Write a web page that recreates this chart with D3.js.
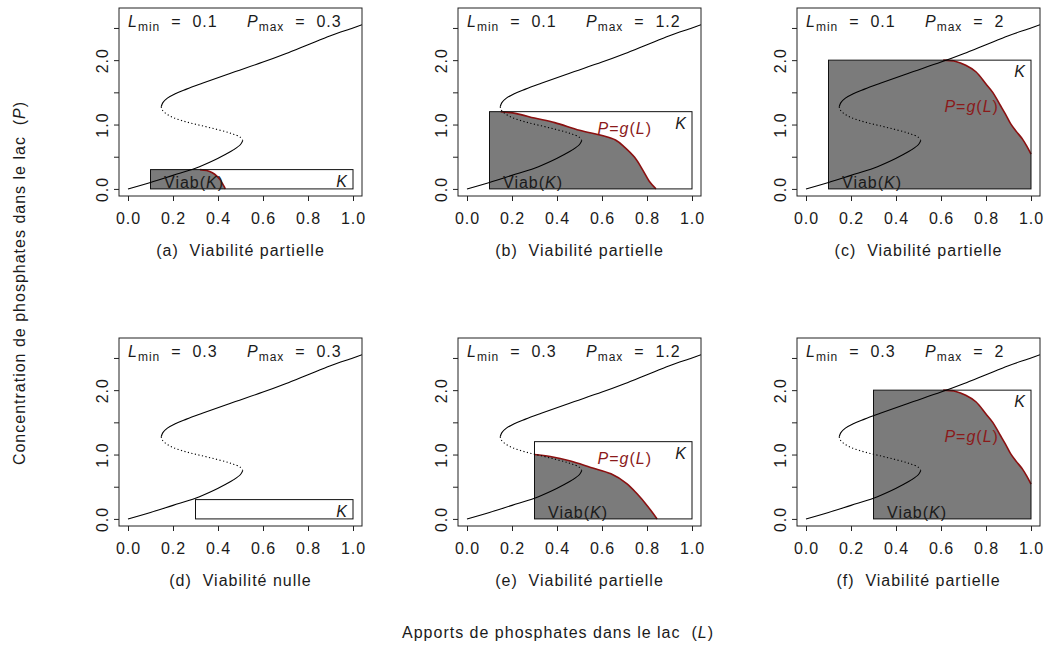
<!DOCTYPE html>
<html lang="fr">
<head>
<meta charset="utf-8">
<script src="https://cdnjs.cloudflare.com/ajax/libs/d3/7.8.5/d3.min.js"></script>
<style>
    body { margin: 0; background: #fff; }
    svg text {
        font-family: "Liberation Sans", Arial, sans-serif;
        font-size: 16px;
        letter-spacing: 1px;
        fill: #1a1a1a;
        white-space: pre;
    }
</style>
</head>
<body>
<div id="fig"></div>
<script>

// courbe d'équilibre P*(L) (identique dans les 6 panneaux)
var eqLow  = [[0,0],[0.1,0.1],[0.2,0.21],[0.3,0.32],[0.38,0.44],[0.43,0.53],[0.47,0.61],[0.5,0.69],[0.51,0.75]];
var eqMid  = [[0.51,0.75],[0.5,0.8],[0.46,0.86],[0.4,0.92],[0.33,0.98],[0.26,1.04],[0.2,1.11],[0.165,1.18],[0.15,1.24],[0.148,1.28]];
var eqHigh = [[0.148,1.28],[0.155,1.34],[0.175,1.41],[0.21,1.48],[0.26,1.55],[0.33,1.64],[0.45,1.79],[0.6,1.97],[0.7,2.1],[0.8,2.24],[0.9,2.38],[1.0,2.5],[1.04,2.55]];

// frontières du noyau de viabilité P = g(L)
var gA = [[0.32,0.3],[0.35,0.285],[0.375,0.25],[0.395,0.2],[0.41,0.14],[0.42,0.08],[0.43,0.02],[0.432,0]];
var gB = [[0.15,1.2],[0.22,1.17],[0.3,1.1],[0.39,1.03],[0.5,0.91],[0.6,0.83],[0.66,0.76],[0.7,0.65],[0.745,0.49],[0.78,0.3],[0.81,0.12],[0.84,0]];
var gC = [[0.61,2.0],[0.666,1.98],[0.71,1.92],[0.755,1.82],[0.8,1.63],[0.83,1.5],[0.86,1.32],[0.89,1.14],[0.91,1.01],[0.933,0.9],[0.963,0.77],[0.985,0.64],[1.0,0.54]];
var gE = [[0.3,1.0],[0.37,0.97],[0.46,0.9],[0.55,0.8],[0.64,0.7],[0.71,0.55],[0.756,0.39],[0.8,0.21],[0.845,0]];

var letters = ["a","b","c","d","e","f"];
var lmins   = [0.1,0.1,0.1,0.3,0.3,0.3];
var pmaxs   = [0.3,1.2,2,0.3,1.2,2];
var titles  = ["Viabilité partielle","Viabilité partielle","Viabilité partielle",
               "Viabilité nulle","Viabilité partielle","Viabilité partielle"];
var kernels = [gA,gB,gC,null,gE,gC];
var gLabels = [null,[0.58,0.85],[0.615,1.2],null,[0.58,0.85],[0.615,1.2]];

var xTicks = [0,0.2,0.4,0.6,0.8,1.0];
var yTicks = [0,0.5,1,1.5,2,2.5];
var yLabeled = [0,1,2];

var W = 1049, H = 648;
var pw = 243, ph = 188;
var colLeft = [119,458,797];
var rowTop = [8,338];

var svg = d3.select("#fig").append("svg")
    .attr("width", W).attr("height", H);

var x = d3.scaleLinear().domain([-0.04,1.04]).range([0,pw]);
var y = d3.scaleLinear().domain([-0.11,2.81]).range([ph,0]);
var line = d3.line().x(function(d){ return x(d[0]); }).y(function(d){ return y(d[1]); });
var smooth = d3.line().x(function(d){ return x(d[0]); }).y(function(d){ return y(d[1]); }).curve(d3.curveCatmullRom);

for (var i = 0; i < 6; i++) {
    var lmin = lmins[i], pmax = pmaxs[i];
    var g = svg.append("g")
        .attr("transform", "translate(" + colLeft[i % 3] + "," + rowTop[Math.floor(i / 3)] + ")");

    g.append("clipPath").attr("id", "clip" + i)
        .append("rect").attr("width", pw).attr("height", ph);
    var inner = g.append("g").attr("clip-path", "url(#clip" + i + ")");

    // noyau de viabilité (gris) + frontière rouge
    var k = kernels[i];
    if (k) {
        var edge = smooth(k);
        var d = line([[lmin,0],[lmin,k[0][1]]]) + "L" + edge.slice(1)
              + "L" + x(k[k.length-1][0]) + "," + y(0) + "Z";
        inner.append("path").attr("d", d)
            .attr("fill", "#7b7b7b").attr("stroke", "none");
        inner.append("path").attr("d", edge)
            .attr("fill", "none").attr("stroke", "#8b1010").attr("stroke-width", 1.6);
    }

    // ensemble K
    inner.append("rect")
        .attr("x", x(lmin)).attr("y", y(pmax))
        .attr("width", x(1) - x(lmin)).attr("height", y(0) - y(pmax))
        .attr("fill", "none").attr("stroke", "#111").attr("stroke-width", 1);

    // courbe d'équilibre
    inner.append("path").attr("d", smooth(eqLow))
        .attr("fill", "none").attr("stroke", "#000").attr("stroke-width", 1.1);
    inner.append("path").attr("d", smooth(eqMid))
        .attr("fill", "none").attr("stroke", "#000").attr("stroke-width", 1.1)
        .attr("stroke-dasharray", "1.2,2.4");
    inner.append("path").attr("d", smooth(eqHigh))
        .attr("fill", "none").attr("stroke", "#000").attr("stroke-width", 1.1);

    // textes dans le panneau
    var t1 = g.append("text").attr("x", 9).attr("y", 19);
    t1.append("tspan").attr("font-style", "italic").text("L");
    t1.append("tspan").attr("dy", 4).style("font-size", "12px").text("min");
    t1.append("tspan").attr("dy", -4).text("  =  " + lmin);

    var t2 = g.append("text").attr("x", 128).attr("y", 19);
    t2.append("tspan").attr("font-style", "italic").text("P");
    t2.append("tspan").attr("dy", 4).style("font-size", "12px").text("max");
    t2.append("tspan").attr("dy", -4).text("  =  " + pmax);

    g.append("text").attr("x", x(1) - 5).attr("y", y(pmax) + 17)
        .attr("text-anchor", "end").attr("font-style", "italic").text("K");

    if (k) {
        var tv = g.append("text").attr("x", x(lmin + 0.06)).attr("y", y(0) - 1);
        tv.append("tspan").text("Viab(");
        tv.append("tspan").attr("font-style", "italic").text("K");
        tv.append("tspan").text(")");
    }
    if (gLabels[i]) {
        var tg = g.append("text").attr("x", x(gLabels[i][0])).attr("y", y(gLabels[i][1]))
            .style("fill", "#8b1a1a");
        tg.append("tspan").attr("font-style", "italic").text("P");
        tg.append("tspan").text("=");
        tg.append("tspan").attr("font-style", "italic").text("g");
        tg.append("tspan").text("(");
        tg.append("tspan").attr("font-style", "italic").text("L");
        tg.append("tspan").text(")");
    }

    // cadre
    g.append("rect").attr("width", pw).attr("height", ph)
        .attr("fill", "none").attr("stroke", "#222").attr("stroke-width", 1);

    // axes
    var ax = g.append("g").attr("transform", "translate(0," + ph + ")")
        .call(d3.axisBottom(x).tickValues(xTicks).tickSize(5).tickPadding(12)
            .tickFormat(d3.format(".1f")));
    ax.select(".domain").remove();

    var ay = g.append("g")
        .call(d3.axisLeft(y).tickValues(yTicks).tickSize(5)
            .tickFormat(function(d){ return yLabeled.indexOf(d) >= 0 ? d3.format(".1f")(d) : ""; }));
    ay.select(".domain").remove();
    ay.selectAll("text")
        .attr("x", 0).attr("dy", 0).attr("text-anchor", "middle")
        .attr("transform", "translate(-11,0) rotate(-90)");

    g.selectAll(".tick line").attr("stroke", "#222");
    g.selectAll(".tick text").attr("fill", "#1a1a1a")
        .style("font-family", "'Liberation Sans', Arial, sans-serif").style("font-size", "16px");

    g.append("text").attr("x", pw / 2).attr("y", ph + 60)
        .attr("text-anchor", "middle")
        .text("(" + letters[i] + ")  " + titles[i]);
}

// titres des axes
var yl = svg.append("text").attr("text-anchor", "middle")
    .attr("transform", "translate(25,283) rotate(-90)");
yl.append("tspan").text("Concentration de phosphates dans le lac  (");
yl.append("tspan").attr("font-style", "italic").text("P");
yl.append("tspan").text(")");

var xl = svg.append("text").attr("text-anchor", "middle")
    .attr("x", 558).attr("y", 638);
xl.append("tspan").text("Apports de phosphates dans le lac  (");
xl.append("tspan").attr("font-style", "italic").text("L");
xl.append("tspan").text(")");

</script>
</body>
</html>
